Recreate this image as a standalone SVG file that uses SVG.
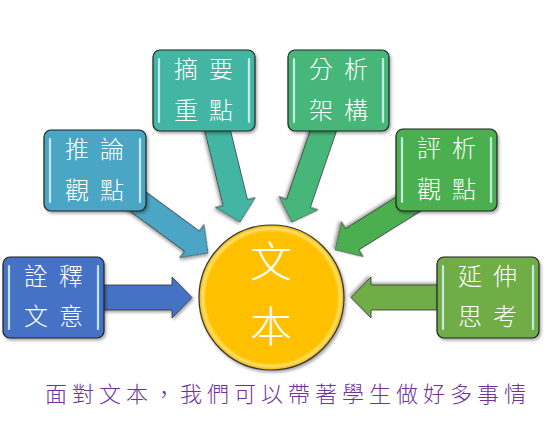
<svg xmlns="http://www.w3.org/2000/svg" width="551" height="427" viewBox="0 0 551 427">
<defs>
<style>
.box{stroke:#222;stroke-width:1.2}
.arr{stroke:#333;stroke-width:0.8}
.hl{stroke:#d8f4ff;stroke-width:2.2;stroke-linecap:round;opacity:0.85}
.t{font-family:"Noto Sans CJK TC","Noto Sans CJK SC",sans-serif;font-weight:300;fill:#fff;font-size:24px;text-anchor:middle}
.c{font-family:"Noto Sans CJK TC","Noto Sans CJK SC",sans-serif;font-weight:300;fill:#fff;font-size:42px;text-anchor:middle}
.cap{font-family:"Noto Sans CJK TC","Noto Sans CJK SC",sans-serif;font-weight:300;fill:#7030A0;font-size:22px;letter-spacing:5px}
</style>
<filter id="sh" x="-20%" y="-20%" width="140%" height="140%">
<feDropShadow dx="1.5" dy="2" stdDeviation="1.5" flood-color="#000" flood-opacity="0.35"/>
</filter>
<radialGradient id="cg" cx="50%" cy="50%" r="50%">
<stop offset="0.9" stop-color="#FFC000"/>
<stop offset="0.95" stop-color="#FFE066"/>
<stop offset="1" stop-color="#F0B000"/>
</radialGradient>
</defs>
<g id="connectors">
<path class="arr" fill="#4472C4" filter="url(#sh)" transform="translate(100,297.5)" d="M0,-12.5H72V-20.5L92,0L72,20.5V12.5H0Z"/>
<path class="arr" fill="#4BA5C4" filter="url(#sh)" transform="translate(125,192) rotate(36.3)" d="M0,-12.5H83V-20.5L103,0L83,20.5V12.5H0Z"/>
<path class="arr" fill="#43B6A2" filter="url(#sh)" transform="translate(215,120) rotate(76.2)" d="M0,-12.5H85V-20.5L105,0L85,20.5V12.5H0Z"/>
<path class="arr" fill="#46B679" filter="url(#sh)" transform="translate(327,120) rotate(108.9)" d="M0,-12.5H88V-20.5L108,0L88,20.5V12.5H0Z"/>
<path class="arr" fill="#4CAF4F" filter="url(#sh)" transform="translate(415,200) rotate(148)" d="M0,-12.5H74V-20.5L94,0L74,20.5V12.5H0Z"/>
<path class="arr" fill="#70AD47" filter="url(#sh)" transform="translate(440,297.5) rotate(180)" d="M0,-12.5H69V-20.5L89,0L69,20.5V12.5H0Z"/>
</g>
<g id="center">
<circle cx="271.5" cy="297.5" r="72.5" fill="url(#cg)" stroke="#333" stroke-width="1.2" filter="url(#sh)"/>
<text class="c" x="271" y="277">文</text>
<text class="c" x="271" y="342">本</text>
</g>
<g id="n1">
<rect class="box" x="3" y="257" width="101" height="81" rx="7" fill="#4472C4" filter="url(#sh)"/>
<line class="hl" x1="9" y1="266" x2="9" y2="329"/><line class="hl" x1="98" y1="266" x2="98" y2="329"/>
<text class="t" x="36 71" y="285">詮釋</text>
<text class="t" x="36 71" y="325">文意</text>
</g>
<g id="n2">
<rect class="box" x="44" y="130" width="102" height="81" rx="7" fill="#4BA5C4" filter="url(#sh)"/>
<line class="hl" x1="50" y1="139" x2="50" y2="202"/><line class="hl" x1="140" y1="139" x2="140" y2="202"/>
<text class="t" x="77 112" y="158">推論</text>
<text class="t" x="77 112" y="199">觀點</text>
</g>
<g id="n3">
<rect class="box" x="153" y="50" width="102" height="81" rx="7" fill="#43B6A2" filter="url(#sh)"/>
<line class="hl" x1="159" y1="59" x2="159" y2="122"/><line class="hl" x1="249" y1="59" x2="249" y2="122"/>
<text class="t" x="186 221" y="78">摘要</text>
<text class="t" x="186 221" y="119">重點</text>
</g>
<g id="n4">
<rect class="box" x="288" y="50" width="101" height="81" rx="7" fill="#46B679" filter="url(#sh)"/>
<line class="hl" x1="294" y1="59" x2="294" y2="122"/><line class="hl" x1="383" y1="59" x2="383" y2="122"/>
<text class="t" x="321 356" y="78">分析</text>
<text class="t" x="321 356" y="119">架構</text>
</g>
<g id="n5">
<rect class="box" x="396" y="129" width="101" height="82" rx="7" fill="#4CAF4F" filter="url(#sh)"/>
<line class="hl" x1="402" y1="138" x2="402" y2="202"/><line class="hl" x1="491" y1="138" x2="491" y2="202"/>
<text class="t" x="429 464" y="157">評析</text>
<text class="t" x="429 464" y="198">觀點</text>
</g>
<g id="n6">
<rect class="box" x="437" y="257" width="102" height="81" rx="7" fill="#70AD47" filter="url(#sh)"/>
<line class="hl" x1="443" y1="266" x2="443" y2="329"/><line class="hl" x1="533" y1="266" x2="533" y2="329"/>
<text class="t" x="470 505" y="285">延伸</text>
<text class="t" x="470 505" y="325">思考</text>
</g>
<text class="cap" x="45" y="402">面對文本，我們可以帶著學生做好多事情</text>
</svg>
